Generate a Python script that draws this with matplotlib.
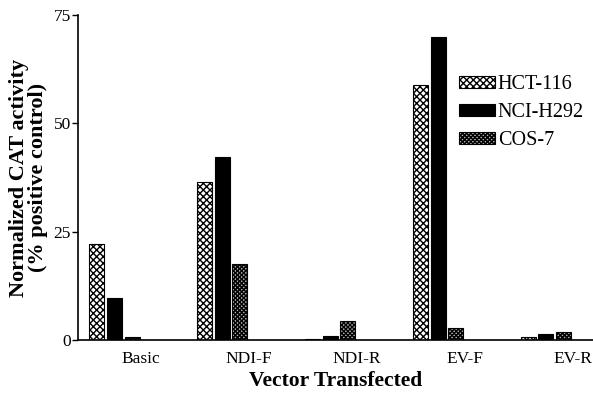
import matplotlib
matplotlib.use("Agg")
import matplotlib.pyplot as plt
import numpy as np

plt.rcParams['font.family'] = ['Liberation Serif', 'DejaVu Serif']
plt.rcParams['hatch.linewidth'] = 1.0

vectors = ["Basic", "NDI-F", "NDI-R", "EV-F", "EV-R"]
cell_lines = ["HCT-116", "NCI-H292", "COS-7"]
hct116 = [22.1, 36.5, 0.3, 58.8, 0.6]
nci_h292 = [9.7, 42.2, 0.9, 69.9, 1.4]
cos7 = [0.8, 17.5, 4.4, 2.8, 1.8]

series = [hct116, nci_h292, cos7]
styles = [
    dict(color="white", hatch="xxxxx"),
    dict(color="black", hatch=None),
    dict(color="#b0b0b0", hatch="xxxxxxxx"),
]

fig = plt.figure(figsize=(5.93, 3.95), dpi=100)
ax = fig.add_axes([0.1315, 0.139, 0.8685, 0.823])

x = np.arange(len(vectors))
pitch = 0.164
width = 0.139
for k, (vals, name, st) in enumerate(zip(series, cell_lines, styles)):
    pos = x + (k - 2.5) * pitch
    ax.bar(pos, vals, width=width, align="center", color=st["color"],
           hatch=st["hatch"], edgecolor="black", linewidth=0.8, label=name)

ax.set_xlim(-0.583, 4.19)
ax.set_ylim(0, 75)
ax.set_yticks([0, 25, 50, 75])
ax.set_xticks(x)
ax.set_xticklabels(vectors, fontsize=12.5)
ax.tick_params(axis="x", length=0, pad=8)
ax.tick_params(axis="y", labelsize=12.5, length=4, width=1, direction="out", pad=1)
ax.spines["top"].set_visible(False)
ax.spines["right"].set_visible(False)
ax.spines["left"].set_linewidth(1.2)
ax.spines["bottom"].set_linewidth(1.2)

ax.set_xlabel("Vector Transfected", fontsize=15.5, fontweight="bold", labelpad=3)
ax.set_ylabel("Normalized CAT activity\n(% positive control)", fontsize=16,
              fontweight="bold", linespacing=0.95, labelpad=4)

ax.legend(loc="upper left", bbox_to_anchor=(0.725, 0.84), frameon=False,
          fontsize=14.5, handlelength=1.75, handleheight=0.55, handletextpad=0.15,
          labelspacing=0.45, borderaxespad=0)

fig.savefig("out.png", dpi=100)
